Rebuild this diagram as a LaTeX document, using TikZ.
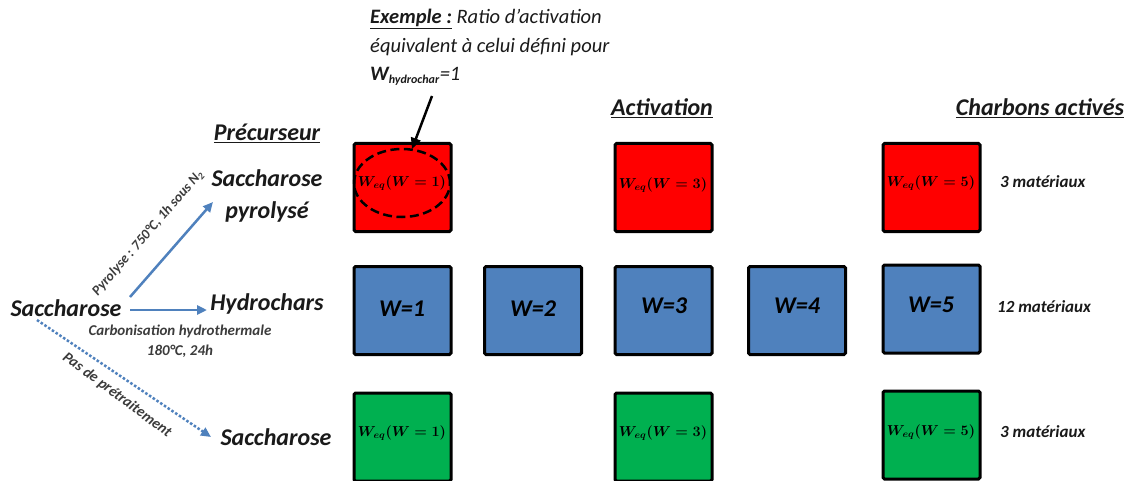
\documentclass[tikz,border=0pt]{standalone}
\usepackage{fontspec}
\setmainfont{Carlito}
\usetikzlibrary{arrows.meta}
\definecolor{redbox}{HTML}{FF0000}
\definecolor{bluebox}{HTML}{4F81BD}
\definecolor{greenbox}{HTML}{00B050}
\definecolor{arrblue}{HTML}{4F81BD}
\definecolor{txt}{HTML}{1A1A1A}
\tikzset{
  box/.style={draw=black, line width=3pt, rounded corners=1.5pt, minimum width=97pt, minimum height=88pt, inner sep=0pt, text=txt},
  redb/.style={box, fill=redbox},
  blueb/.style={box, fill=bluebox},
  greenb/.style={box, fill=greenbox},
  lbl/.style={font=\bfseries\itshape\fontsize{24}{28}\selectfont, text=txt, inner sep=0pt},
  title/.style={font=\bfseries\itshape\fontsize{24}{28}\selectfont, text=txt, inner sep=0pt},
  small/.style={font=\bfseries\itshape\fontsize{17}{20}\selectfont, text=txt, inner sep=0pt},
  cond/.style={font=\bfseries\itshape\fontsize{15}{20}\selectfont, text=txt!85, inner sep=0pt},
  wtext/.style={font=\bfseries\itshape\fontsize{24}{28}\selectfont},
  mtext/.style={font=\fontsize{14.5}{16}\selectfont\boldmath},
  barrow/.style={-{Triangle[length=10pt,width=9pt]}, draw=arrblue, line width=2.5pt},
}
\begin{document}
\begin{tikzpicture}[x=1pt,y=-1pt]
\useasboundingbox (0,0) rectangle (1131,481);
\clip (0,0) rectangle (1131,481);
\fill[white] (0,0) rectangle (1131,481);

% titles
\node[title] (tprec) at (267,133) {\underline{Précurseur}};
\node[title] (tact) at (662,108) {\underline{Activation}};
\node[title] (tchar) at (1040,108) {\underline{Charbons activés}};

% annotation
\node[anchor=north west, inner sep=0pt, text=txt, align=left,
      font=\itshape\fontsize{20.5}{28.5}\selectfont] (note) at (370,9)
  {\textbf{\underline{Exemple :}} Ratio d’activation\\
   équivalent à celui défini pour\\
   \textbf{W\textsubscript{\fontsize{12}{12}\selectfont hydrochar}}=1};

% boxes
\node[redb] (r1) at (402.5,187.5) {};
\node[redb] (r3) at (663.5,187.5) {};
\node[redb] (r5) at (931.5,187.5) {};
\node[blueb] (b1) at (402.5,310.5) {};
\node[blueb] (b2) at (533,310.5) {};
\node[blueb] (b3) at (663.5,310.5) {};
\node[blueb] (b4) at (797,310.5) {};
\node[blueb] (b5) at (931.5,309) {};
\node[greenb] (g1) at (402.5,437) {};
\node[greenb] (g3) at (663.5,437) {};
\node[greenb] (g5) at (931.5,435) {};

% box texts
\node[mtext] (mr1) at (402,183) {$W_{eq}(W=1)$};
\node[mtext] (mr3) at (663,185) {$W_{eq}(W=3)$};
\node[mtext] (mr5) at (931,183) {$W_{eq}(W=5)$};
\node[mtext] (mg1) at (402,433) {$W_{eq}(W=1)$};
\node[mtext] (mg3) at (663,433) {$W_{eq}(W=3)$};
\node[mtext] (mg5) at (931,432) {$W_{eq}(W=5)$};
\node[wtext] (wb1) at (402,309) {W=1};
\node[wtext] (wb2) at (533,309) {W=2};
\node[wtext] (wb3) at (664,306) {W=3};
\node[wtext] (wb4) at (797,306) {W=4};
\node[wtext] (wb5) at (931,305) {W=5};

% right labels
\node[small, anchor=west] (m1) at (1000,182) {3 matériaux};
\node[small, anchor=west] (m2) at (997,307) {12 matériaux};
\node[small, anchor=west] (m3) at (1000,432) {3 matériaux};

% dashed ellipse
\draw[black, line width=2.5pt, dash pattern=on 9pt off 4.5pt] (mr1) ellipse [x radius=48pt, y radius=34pt];
\coordinate (ellTop) at (412,149);
\coordinate (noteEnd) at (432,96);
\draw[-{Triangle[length=11pt,width=10pt]}, line width=2.5pt, black] (noteEnd) -- (ellTop);

% left part
\node[lbl] (sacc) at (66,308) {Saccharose};
\node[lbl, align=center, font=\bfseries\itshape\fontsize{24}{32}\selectfont] (pyro) at (267,196) {Saccharose\\pyrolysé};
\node[lbl] (hydro) at (267,304) {Hydrochars};
\node[lbl] (sacc2) at (276,437) {Saccharose};

\coordinate (a1s) at (130,297);
\coordinate (a1e) at (213,202);
\coordinate (a2s) at (130,310);
\coordinate (a2e) at (207,310);
\coordinate (a3s) at (37,320);
\coordinate (a3e) at (211,437);
\draw[barrow] (a1s) -- (a1e);
\draw[barrow] (a2s) -- (a2e);
\draw[barrow, dotted, line width=2.5pt] (a3s) -- (a3e);

\node[cond, rotate=49, font=\bfseries\itshape\fontsize{14}{16}\selectfont] (plab) at (148,233) {Pyrolyse : 750°C, 1h sous N\textsubscript{2}};
\node[cond, align=center] (clab) at (180,341) {Carbonisation hydrothermale\\180°C, 24h};
\node[cond, rotate=-36.6] (nlab) at (117,395) {Pas de prétraitement};
\end{tikzpicture}
\end{document}
